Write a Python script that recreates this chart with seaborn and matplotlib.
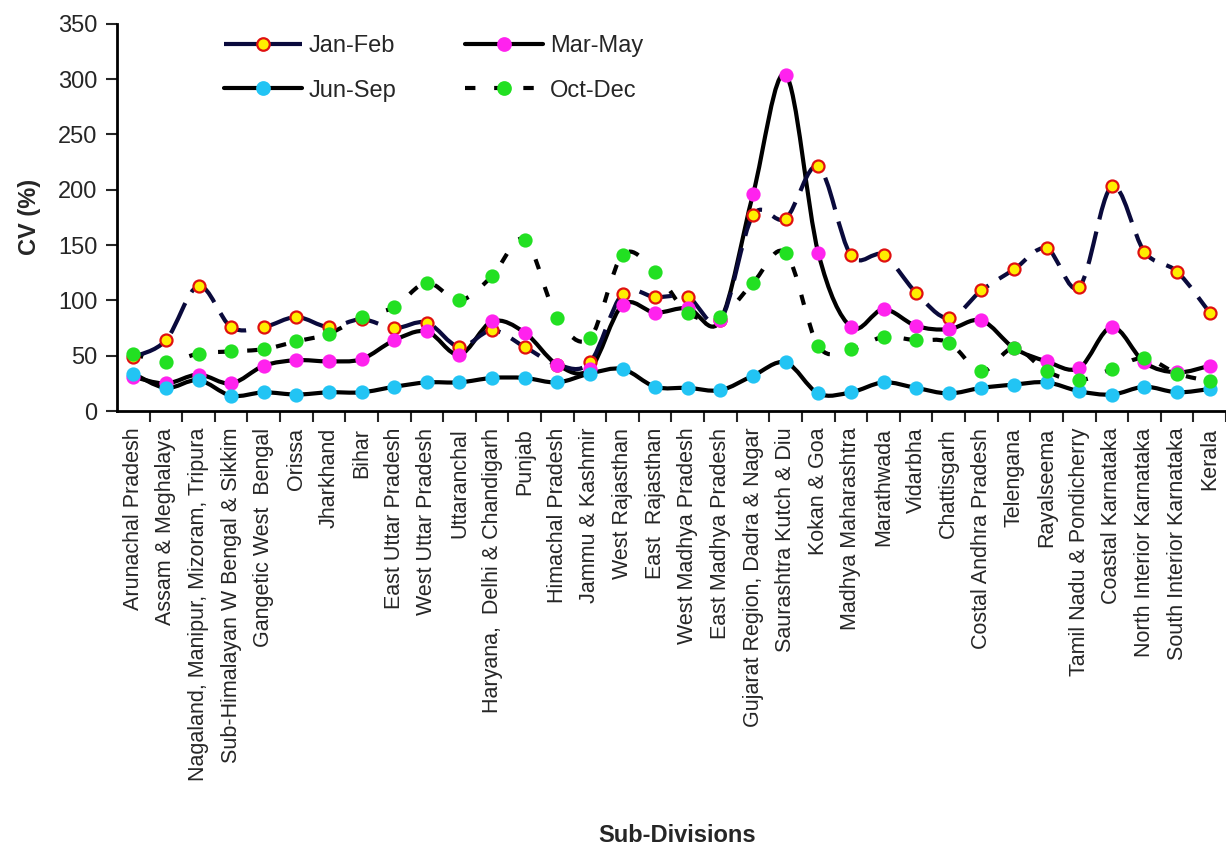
import numpy as np
import pandas as pd
import matplotlib
matplotlib.use("Agg")
import matplotlib.pyplot as plt
import seaborn as sns
from matplotlib.path import Path
from matplotlib.patches import PathPatch
from matplotlib.lines import Line2D

# sub-divisions (x axis)
divisions = ["Arunachal Pradesh", "Assam & Meghalaya", "Nagaland, Manipur, Mizoram, Tripura",
             "Sub-Himalayan W Bengal & Sikkim", "Gangetic West  Bengal", "Orissa", "Jharkhand",
             "Bihar", "East Uttar Pradesh", "West Uttar Pradesh", "Uttaranchal",
             "Haryana,  Delhi & Chandigarh", "Punjab", "Himachal Pradesh", "Jammu & Kashmir",
             "West Rajasthan", "East  Rajasthan", "West Madhya Pradesh", "East Madhya Pradesh",
             "Gujarat Region, Dadra & Nagar", "Saurashtra Kutch & Diu", "Kokan & Goa",
             "Madhya Maharashtra", "Marathwada", "Vidarbha", "Chattisgarh",
             "Costal Andhra Pradesh", "Telengana", "Rayalseema", "Tamil Nadu & Pondicherry",
             "Coastal Karnataka", "North Interior Karnataka", "South Interior Karnataka", "Kerala"]

# CV (%) per season
jan_feb = [49, 64, 113, 76, 76, 85, 76, 83, 75, 80, 58, 73, 58, 42, 44, 106, 103, 103, 82,
           177, 174, 221, 141, 141, 107, 84, 109, 128, 147, 112, 203, 144, 126, 89]
mar_may = [31, 25, 33, 25, 41, 46, 45, 47, 64, 72, 51, 81, 71, 42, 38, 96, 89, 93, 82,
           196, 304, 143, 76, 92, 77, 74, 82, 57, 45, 39, 76, 44, 35, 41]
jun_sep = [34, 21, 28, 14, 17, 15, 17, 17, 22, 26, 26, 30, 30, 26, 34, 38, 22, 21, 19,
           32, 44, 16, 17, 26, 21, 16, 21, 24, 26, 18, 15, 22, 17, 20]
oct_dec = [52, 44, 52, 54, 56, 63, 70, 85, 94, 116, 100, 122, 155, 84, 66, 141, 126, 89, 85,
           116, 143, 59, 56, 67, 64, 62, 36, 57, 36, 28, 38, 48, 34, 27]

seasons = ["Jan-Feb", "Mar-May", "Jun-Sep", "Oct-Dec"]
values = [jan_feb, mar_may, jun_sep, oct_dec]

rows = []
for s, vals in zip(seasons, values):
    for i, v in enumerate(vals):
        rows.append({"season": s, "pos": i, "cv": v})
df = pd.DataFrame(rows)

sns.set_style("white")
plt.rcParams["font.family"] = ["Liberation Sans", "DejaVu Sans"]

line_style = {"Jan-Feb": dict(color="#0a0a3c", ls=(0, (8, 3)), lw=3.0, z=4),
              "Mar-May": dict(color="black", ls="-", lw=3.0, z=3),
              "Jun-Sep": dict(color="black", ls="-", lw=3.0, z=2),
              "Oct-Dec": dict(color="black", ls=(0, (2.5, 4.5)), lw=3.0, z=1)}
face = {"Jan-Feb": "#ffee00", "Mar-May": "#ff22ee", "Jun-Sep": "#22c4f4", "Oct-Dec": "#22e022"}
edge = {"Jan-Feb": "#e01010", "Mar-May": "#ff22ee", "Jun-Sep": "#22c4f4", "Oct-Dec": "#22e022"}


def smooth_path(xs, ys):
    # Excel-like smoothed line: cubic bezier through the points
    n = len(xs)
    pts = np.column_stack([xs, ys]).astype(float)
    verts = [pts[0]]
    codes = [Path.MOVETO]
    for i in range(n - 1):
        p0 = pts[i - 1] if i > 0 else pts[i]
        p1 = pts[i]
        p2 = pts[i + 1]
        p3 = pts[i + 2] if i + 2 < n else pts[i + 1]
        c1 = p1 + (p2 - p0) / 6.0
        c2 = p2 - (p3 - p1) / 6.0
        verts += [c1, c2, p2]
        codes += [Path.CURVE4] * 3
    return Path(verts, codes)


fig = plt.figure(figsize=(12.26, 8.46), dpi=100)
ax = fig.add_axes([0.0954, 0.514, 0.9046, 0.458])

for s, vals in zip(seasons, values):
    st = line_style[s]
    patch = PathPatch(smooth_path(np.arange(len(vals)), vals), facecolor="none",
                      edgecolor=st["color"], lw=st["lw"], linestyle=st["ls"],
                      capstyle="butt", zorder=st["z"])
    ax.add_patch(patch)

for s in seasons:
    sub = df[df["season"] == s]
    sns.scatterplot(data=sub, x="pos", y="cv", ax=ax, s=75, color=face[s],
                    edgecolor=edge[s], linewidth=1.6, zorder=6, legend=False)

ax.set_xlim(-0.5, 33.28)
ax.set_ylim(0, 350)
ax.set_yticks(np.arange(0, 351, 50))
ax.tick_params(axis="y", labelsize=17, length=8, width=1.5, direction="out", left=True, pad=6)
ax.set_xticks(np.arange(len(divisions)))
ax.set_xticklabels(divisions, rotation=90, fontsize=15.5, va="top")
ax.set_xticks(np.arange(len(divisions)) + 0.5, minor=True)
ax.tick_params(axis="x", which="major", length=0, pad=12)
ax.tick_params(axis="x", which="minor", length=8, width=1.5, direction="out", bottom=True)
for side in ["top", "right"]:
    ax.spines[side].set_visible(False)
for side in ["left", "bottom"]:
    ax.spines[side].set_linewidth(2)
    ax.spines[side].set_color("black")
ax.set_xlabel("")
ax.set_ylabel("CV (%)", fontsize=17, fontweight="bold", labelpad=12)
fig.text(0.552, 0.012, "Sub-Divisions", fontsize=17, fontweight="bold", ha="center", va="center")

handles = {}
for s in seasons:
    st = line_style[s]
    handles[s] = Line2D([], [], color=st["color"], lw=st["lw"], linestyle=st["ls"],
                        marker="o", markersize=9, markerfacecolor=face[s],
                        markeredgecolor=edge[s], markeredgewidth=1.6)
# legend fills column-wise, so order gives rows Jan-Feb/Mar-May and Jun-Sep/Oct-Dec
order = ["Jan-Feb", "Jun-Sep", "Mar-May", "Oct-Dec"]
leg = ax.legend([handles[s] for s in order], order, ncol=2, loc="upper left",
                bbox_to_anchor=(0.077, 1.025), frameon=False, fontsize=17,
                handlelength=3.3, handletextpad=0.3, columnspacing=2.9, labelspacing=0.95)

fig.savefig("out.png", dpi=100)
